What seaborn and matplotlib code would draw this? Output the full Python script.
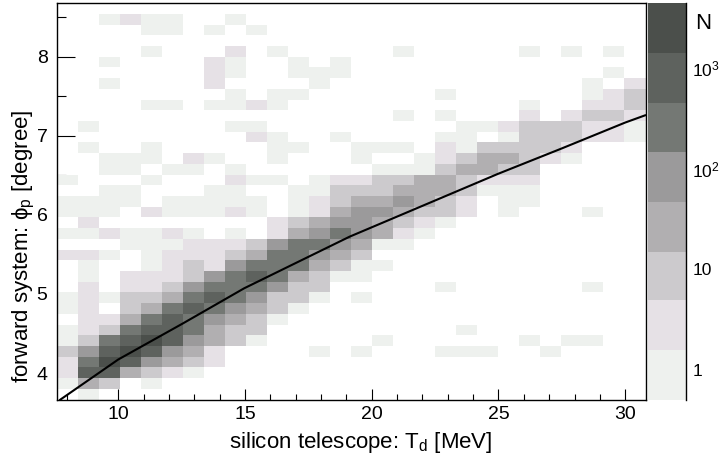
import numpy as np
import pandas as pd
import matplotlib
matplotlib.use("Agg")
import matplotlib.pyplot as plt
from matplotlib.colors import ListedColormap, BoundaryNorm
from matplotlib.ticker import MultipleLocator, FixedLocator, FixedFormatter, NullFormatter
import seaborn as sns

# ---------------- data ----------------
x_range = (7.6, 30.8)        # silicon telescope T_d [MeV]
y_range = (3.665, 8.676)     # forward system phi_p [degree]
n_xbins = 28
n_ybins = 37

# colour bands of the log-z palette (log10 of band edges) and their colours
level_log_edges = [-0.29, 0.197, 0.693, 1.173, 1.669, 2.166, 2.652, 3.149, 3.64]
level_colors = ["#eef1ee", "#e6e1e6", "#cccacd", "#b1afb1",
                "#9b9a9b", "#747874", "#5e625e", "#4b4f4b"]

# colour level (0 = empty, 1..8 = band) of every bin, top row first
bin_levels = [
    "0000000000000000000000000000",
    "0012110010000000000000000000",
    "0000110101000000000000000000",
    "0000000000000000000000000000",
    "0000100020100000100000101010",
    "0010000210010100000000000000",
    "0000000210011100000000000010",
    "0010000200001000000000000102",
    "0000000010110000001000000123",
    "0000110112100000000000100223",
    "0000000000000000101000202332",
    "0100000011000000000112333221",
    "0000000002100100001101333221",
    "0100100000110011102133332000",
    "0011102100100010012344321000",
    "0011011010000001113443300000",
    "1000100021101223344322200000",
    "0011000110011333444311100000",
    "1111011111012344543201100000",
    "1110211121012455433201000100",
    "0200000000234554321000000000",
    "1121121010245654210000000000",
    "0001112223566541100000000000",
    "2210122234665430000000000000",
    "0100123256664311000000000000",
    "0102223567643110000000000000",
    "0202235666533000001000000100",
    "1213346765331010000000000000",
    "1203467654310000000000000000",
    "0224676543100000000000000000",
    "1236776433000000000100000000",
    "1367875431000001000000101100",
    "3578754200001010001110010000",
    "2687543200000000000000000000",
    "2774321000000000000000000000",
    "1430100000000000000000000000",
    "0100000000000000000000000000",
]

# black reference curve
curve_x = [7.70, 10.0, 12.56, 14.97, 17.0, 19.13, 22.55, 24.98, 27.5, 30.0, 30.8]
curve_y = [3.659, 4.17, 4.628, 5.071, 5.39, 5.724, 6.188, 6.518, 6.84, 7.167, 7.26]

x_ticks = [10, 15, 20, 25, 30]
y_ticks = [4, 5, 6, 7, 8]
z_ticks = [1, 10, 100, 1000]
z_tick_labels = ["1", "10", "$10^{2}$", "$10^{3}$"]

# ---------------- build table ----------------
x_edges = np.linspace(x_range[0], x_range[1], n_xbins + 1)
y_edges = np.linspace(y_range[0], y_range[1], n_ybins + 1)
x_cent = 0.5 * (x_edges[:-1] + x_edges[1:])
y_cent = 0.5 * (y_edges[:-1] + y_edges[1:])
log_e = np.array(level_log_edges)
count_edges = 10 ** log_e
level_counts = 10 ** (0.5 * (log_e[:-1] + log_e[1:]))

recs = []
for i, row in enumerate(bin_levels):
    assert len(row) == n_xbins
    yc = y_cent[n_ybins - 1 - i]
    for j, ch in enumerate(row):
        lv = int(ch)
        if lv:
            recs.append((x_cent[j], yc, level_counts[lv - 1]))
df = pd.DataFrame(recs, columns=["T_d", "phi_p", "N"])

# ---------------- style ----------------
sns.set_style("ticks")
plt.rcParams["font.family"] = ["Liberation Sans", "DejaVu Sans"]
plt.rcParams.update({
    "axes.edgecolor": "black",
    "axes.linewidth": 1.0,
    "xtick.color": "black",
    "ytick.color": "black",
    "text.color": "black",
    "axes.labelcolor": "black",
    "mathtext.fontset": "custom",
    "mathtext.rm": "Liberation Sans",
    "mathtext.it": "Liberation Sans",
    "mathtext.sf": "Liberation Sans",
    "mathtext.bf": "Liberation Sans:bold",
    "mathtext.default": "regular",
    "mathtext.fallback": "stixsans",
})

W, H = 722, 454
fig = plt.figure(figsize=(W / 100, H / 100), dpi=100)
fig.patch.set_facecolor("white")
L, R, T, B = 57.3, 645.5, 3.2, 399.5
ax = fig.add_axes([L / W, 1 - B / H, (R - L) / W, (B - T) / H])

cmap = ListedColormap(level_colors)
norm = BoundaryNorm(count_edges, cmap.N)
sns.histplot(data=df, x="T_d", y="phi_p", weights="N",
             bins=(x_edges, y_edges), cmap=cmap, norm=norm,
             vmin=None, vmax=None, ax=ax)
sns.lineplot(x=curve_x, y=curve_y, color="black", linewidth=1.5, ax=ax)

ax.set_xlim(x_range)
ax.set_ylim(y_range)
ax.set_xticks(x_ticks)
ax.set_yticks(y_ticks)
ax.xaxis.set_minor_locator(MultipleLocator(1))
ax.yaxis.set_minor_locator(MultipleLocator(0.5))
ax.tick_params(axis="x", which="major", direction="in", length=8, width=0.8,
               top=False, labelsize=14, pad=5)
ax.tick_params(axis="x", which="minor", direction="in", length=4.3, width=0.8, top=False)
ax.tick_params(axis="y", which="major", direction="in", length=12.7, width=0.8,
               right=False, labelsize=14, pad=7)
ax.tick_params(axis="y", which="minor", direction="in", length=6.3, width=0.8, right=False)
for s in ax.spines.values():
    s.set_visible(True)
    s.set_color("black")
    s.set_linewidth(1.0)

ax.set_xlabel("silicon telescope: T$_{d}$ [MeV]", fontsize=16)
ax.set_ylabel("forward system: $\\phi_{p}$ [degree]", fontsize=16)
ax.xaxis.set_label_coords((361 - L) / (R - L), -(429.7 - B) / (B - T))
ax.yaxis.set_label_coords((37 - L) / (R - L), (B - 246) / (B - T))

# ---------------- palette / colour scale ----------------
cL, cR = 648.3, 686.0
cax = fig.add_axes([cL / W, 1 - B / H, (cR - cL) / W, (B - T) / H])
cax.pcolormesh([0, 1], count_edges, np.arange(cmap.N).reshape(-1, 1),
               cmap=cmap, vmin=-0.5, vmax=cmap.N - 0.5)
cax.set_yscale("log")
cax.set_ylim(count_edges[0], count_edges[-1])
cax.set_xlim(0, 1)
cax.set_xticks([])
for side in ("left", "top", "bottom"):
    cax.spines[side].set_visible(False)
cax.spines["right"].set_color("black")
cax.spines["right"].set_linewidth(1.0)
cax.yaxis.tick_right()
cax.yaxis.set_major_locator(FixedLocator(z_ticks))
cax.yaxis.set_major_formatter(FixedFormatter(z_tick_labels))
minors = [m * 10 ** d for d in range(-1, 4) for m in range(2, 10)]
minors = [v for v in minors if count_edges[0] < v < count_edges[-1]]
cax.yaxis.set_minor_locator(FixedLocator(minors))
cax.yaxis.set_minor_formatter(NullFormatter())
cax.tick_params(axis="y", which="major", direction="in", length=12.7, width=0.8,
                left=False, right=True, labelsize=12.5, pad=4.5)
cax.tick_params(axis="y", which="minor", direction="in", length=6.3, width=0.8,
                left=False, right=True)
fig.text(695 / W, 1 - 13 / H, "N", fontsize=16, ha="left", va="top")

fig.savefig("out.png", dpi=100)
